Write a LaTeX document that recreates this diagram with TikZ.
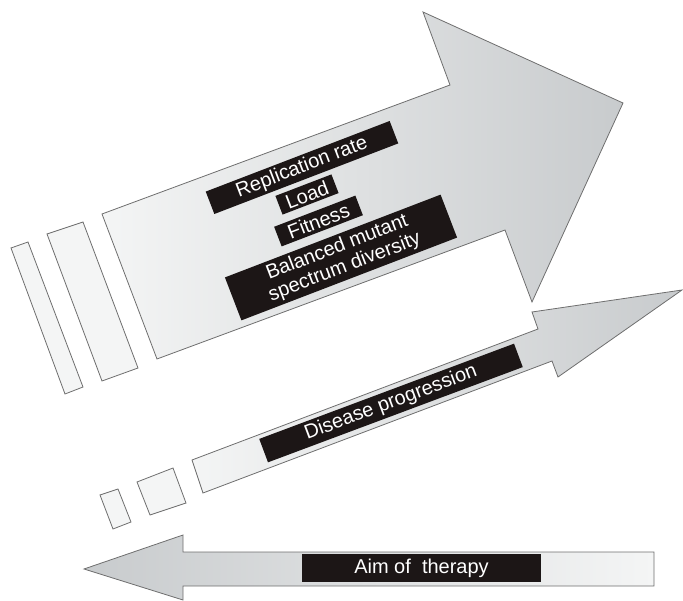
\documentclass[tikz,border=0pt]{standalone}
\usepackage{fontspec}
\setmainfont{Liberation Sans}
\definecolor{arrowlight}{HTML}{F4F5F5}
\definecolor{arrowdark}{HTML}{C8CBCD}
\definecolor{edgegray}{HTML}{6E6E6E}
\definecolor{boxblack}{HTML}{1C1616}
\tikzset{
  arrowbody/.style={draw=edgegray, line width=0.8pt, line join=miter},
  strip/.style={draw=edgegray, line width=0.8pt, fill=arrowlight},
  labelbox/.style={fill=boxblack, text=white, inner sep=0pt, align=center,
    font=\fontsize{20}{21}\selectfont},
}
\begin{document}
\begin{tikzpicture}[x=1pt, y=-1pt]
    \useasboundingbox (0,0) rectangle (683,601);

    % strips in front of the large arrow
    \draw[strip] (11,248) -- (28,242) -- (83,387) -- (65,394) -- cycle;
    \draw[strip] (47,234) -- (83,222) -- (138,368) -- (102,381) -- cycle;

    % large arrow
    \shade[arrowbody, left color=arrowlight, right color=arrowdark]
        (102,214) -- (450,85) -- (423,12) -- (623,103) -- (532,302)
        -- (505,230) -- (157,359) -- cycle;

    % strips in front of the thin arrow
    \draw[strip] (100,495) -- (118,489) -- (131,522) -- (113,529) -- cycle;
    \draw[strip] (137,482) -- (173,468) -- (186,503) -- (150,515) -- cycle;

    % thin arrow
    \shade[arrowbody, left color=arrowlight, right color=arrowdark]
        (192,460) -- (538,329) -- (532,312) -- (682,290) -- (558,377)
        -- (552,361) -- (203,493) -- cycle;

    % arrow pointing back
    \shade[arrowbody, left color=arrowdark, right color=arrowlight]
        (84,569) -- (183,535) -- (183,552) -- (654,552) -- (654,586)
        -- (183,586) -- (183,600) -- cycle;

    \node[labelbox, rotate=21, minimum width=197pt, minimum height=24pt]
        (repl) at (302,167.5) {Replication rate};
    \node[labelbox, rotate=21, minimum width=60pt, minimum height=20pt]
        (load) at (307,194.5) {Load};
    \node[labelbox, rotate=21, minimum width=87pt, minimum height=21pt]
        (fitness) at (318.5,221) {Fitness};
    \node[labelbox, rotate=21, minimum width=231pt, minimum height=46pt]
        (balanced) at (341,257.5) {Balanced mutant\\spectrum diversity};
    \node[labelbox, rotate=20.5, minimum width=272pt, minimum height=25pt]
        (disease) at (391,403) {Disease progression};
    \node[labelbox, minimum width=239pt, minimum height=28pt]
        (aim) at (421.5,568) {Aim of~ therapy};
\end{tikzpicture}
\end{document}
